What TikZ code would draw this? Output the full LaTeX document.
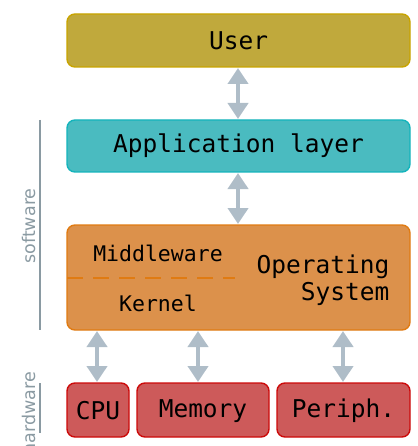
\documentclass[tikz,border=0pt]{standalone}
\usepackage{fontspec}
\setmonofont{DejaVu Sans Mono}
\newfontfamily\sidefont{DejaVu Sans}
\usetikzlibrary{arrows.meta}
\definecolor{userfill}{HTML}{C0A93C}
\definecolor{userdraw}{HTML}{C8A400}
\definecolor{appfill}{HTML}{4ABBC0}
\definecolor{appdraw}{HTML}{14B4BC}
\definecolor{osfill}{HTML}{DC914B}
\definecolor{osdraw}{HTML}{E07B12}
\definecolor{hwfill}{HTML}{CD5A5A}
\definecolor{hwdraw}{HTML}{CC0A0A}
\definecolor{arrowgray}{HTML}{AFBDC8}
\definecolor{sidegray}{HTML}{8A9AA2}
\tikzset{
  layer/.style={rounded corners=8pt, line width=1.4pt},
  lbl/.style={font=\ttfamily\fontsize{24.5}{28}\selectfont, inner sep=0pt},
  sublbl/.style={font=\ttfamily\fontsize{21.5}{25}\selectfont, inner sep=0pt},
  link/.style={arrowgray, line width=4pt,
    {Triangle[width=20pt,length=16pt]}-{Triangle[width=20pt,length=16pt]}},
  sidebar/.style={sidegray, line width=2.5pt},
  sidelbl/.style={font=\sidefont\fontsize{17.5}{20}\selectfont, text=sidegray, rotate=90, inner sep=0pt}
}
\begin{document}
\begin{tikzpicture}[x=1pt,y=-1pt]
\useasboundingbox (0,0) rectangle (417,446);

% layer boxes
\draw[layer, fill=userfill, draw=userdraw] (67,14) rectangle (410,67);
\node[lbl] (user) at (238.5,40.5) {User};
\coordinate (userB) at (238,68);

\draw[layer, fill=appfill, draw=appdraw] (67,120) rectangle (410,172);
\node[lbl] (app) at (238.5,146) {Application layer};
\coordinate (appT) at (238,119);
\coordinate (appB) at (238,173);

\draw[layer, fill=osfill, draw=osdraw] (67,225) rectangle (410,330);
\coordinate (osT) at (238,224);
\draw[osdraw, line width=2.2pt, dash pattern=on 16pt off 10pt] (67,278) -- (235,278);
\node[sublbl] (mw) at (158,253) {Middleware};
\node[sublbl] (kernel) at (158,303) {Kernel};
\node[lbl, align=right, anchor=east, font=\ttfamily\fontsize{24.5}{27.5}\selectfont] (os) at (389.5,280) {Operating\\System};

% hardware boxes
\draw[layer, fill=hwfill, draw=hwdraw] (67,383) rectangle (129,437);
\node[lbl] (cpu) at (98,411) {CPU};
\draw[layer, fill=hwfill, draw=hwdraw] (137,383) rectangle (269,437);
\node[lbl] (mem) at (203,411) {Memory};
\draw[layer, fill=hwfill, draw=hwdraw] (277,383) rectangle (410,437);
\node[lbl] (per) at (343.5,411) {Periph.};

% connectors
\coordinate (cpuT) at (97,382);
\coordinate (memT) at (198,382);
\coordinate (perT) at (343,382);
\coordinate (osC) at (97,331);
\coordinate (osM) at (198,331);
\coordinate (osP) at (343,331);
\draw[link] (userB) -- (appT);
\draw[link] (appB) -- (osT);
\draw[link] (osC) -- (cpuT);
\draw[link] (osM) -- (memT);
\draw[link] (osP) -- (perT);

% side bars
\coordinate (swA) at (40,120);
\coordinate (swB) at (40,330);
\coordinate (hwA) at (40,383);
\coordinate (hwB) at (40,433);
\draw[sidebar] (swA) -- (swB);
\draw[sidebar] (hwA) -- (hwB);
\node[sidelbl] (sw) at (29,226) {software};
\node[sidelbl] (hw) at (29,413) {hardware};
\end{tikzpicture}
\end{document}
